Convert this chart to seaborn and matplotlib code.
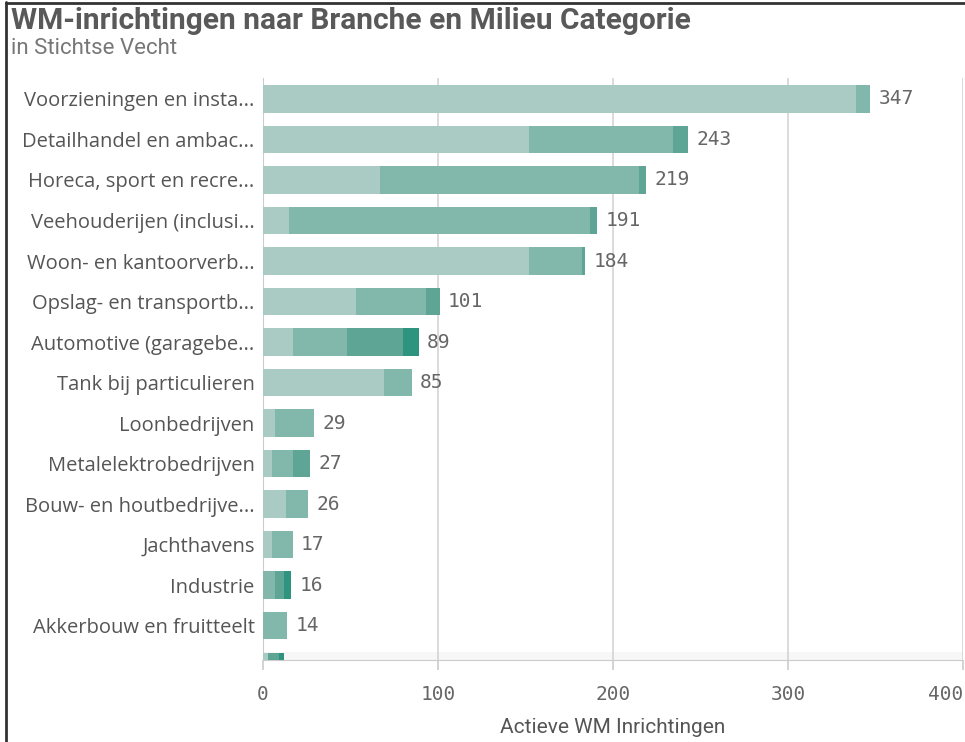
import matplotlib
matplotlib.use("Agg")
import matplotlib.pyplot as plt
import seaborn as sns
import numpy as np
import pandas as pd
from matplotlib.lines import Line2D

# branches (the last row is cut off in the original view)
branches = ["Voorzieningen en insta...", "Detailhandel en ambac...", "Horeca, sport en recre...",
            "Veehouderijen (inclusi...", "Woon- en kantoorverb...", "Opslag- en transportb...",
            "Automotive (garagebe...", "Tank bij particulieren", "Loonbedrijven",
            "Metalelektrobedrijven", "Bouw- en houtbedrijve...", "Jachthavens", "Industrie",
            "Akkerbouw en fruitteelt", "Overige"]
# milieu categories, lightest to darkest
cat1 = [339, 152, 67, 15, 152, 53, 17, 69, 7, 5, 13, 5, 0, 0, 3]
cat2 = [8, 82, 148, 172, 30, 40, 31, 16, 22, 12, 13, 12, 7, 14, 0]
cat3 = [0, 9, 4, 4, 2, 8, 32, 0, 0, 10, 0, 0, 5, 0, 6]
cat4 = [0, 0, 0, 0, 0, 0, 9, 0, 0, 0, 0, 0, 4, 0, 3]
xticks = [0, 100, 200, 300, 400]

colors = ["#a9cbc3", "#82b7ab", "#5fa596", "#2e9480"]

df = pd.DataFrame({"branche": branches, "c1": cat1, "c2": cat2, "c3": cat3, "c4": cat4})
df["s1"] = df["c1"]
df["s2"] = df["s1"] + df["c2"]
df["s3"] = df["s2"] + df["c3"]
df["s4"] = df["s3"] + df["c4"]

sns.set_style("white")
plt.rcParams["font.family"] = ["Open Sans", "DejaVu Sans"]

fig = plt.figure(figsize=(9.65, 7.42), dpi=100)
ax = fig.add_axes([0.2725, 0.1105, 0.7255, 0.7845])

# stacked bars: draw cumulative totals from darkest to lightest
for col, c in zip(["s4", "s3", "s2", "s1"], colors[::-1]):
    sns.barplot(data=df, x=col, y="branche", color=c, width=0.67, ax=ax,
                saturation=1, linewidth=0, zorder=3)

for i, tot in enumerate(df["s4"]):
    ax.annotate(str(tot), xy=(tot, i), xytext=(6, 0), textcoords="offset points",
                va="center", ha="left", fontsize=14, color="#666666",
                family="DejaVu Sans Mono")

# faint band just above the axis line
ax.axhspan(13.64, 13.85, color="#f7f7f7", zorder=0.5, linewidth=0)

ax.set_xlim(0, 400)
ax.set_ylim(13.85, -0.52)
ax.set_xticks(xticks)
ax.set_xticklabels([str(t) for t in xticks], family="DejaVu Sans Mono", fontsize=14, color="#666666")
ax.get_xticklabels()[-1].set_horizontalalignment("right")
ax.xaxis.grid(True, color="#d4d4d4", linewidth=1.2, zorder=0)
ax.set_axisbelow(True)
ax.tick_params(axis="x", length=7, color="#cccccc", width=1.2, pad=11, bottom=True)
ax.tick_params(axis="y", length=0, labelsize=14.5, labelcolor="#555555", pad=6)
for s in ["top", "right"]:
    ax.spines[s].set_visible(False)
ax.spines["bottom"].set_color("#cccccc")
ax.spines["left"].set_color("#cccccc")
ax.set_ylabel("")
ax.set_xlabel("Actieve WM Inrichtingen", fontsize=15, color="#555555", labelpad=10, family="Roboto")

fig.text(0.011, 0.972, "WM-inrichtingen naar Branche en Milieu Categorie", fontsize=21.5,
         fontweight="bold", color="#595959", va="center", family="Roboto")
fig.text(0.011, 0.934, "in Stichtse Vecht", fontsize=16, color="#777777", va="center", family="Roboto")

# screenshot frame
fig.add_artist(Line2D([0.006, 0.006], [0, 0.997], color="#333333", linewidth=2))
fig.add_artist(Line2D([0.006, 1], [0.996, 0.996], color="#333333", linewidth=2))

fig.savefig("out.png", dpi=100)
